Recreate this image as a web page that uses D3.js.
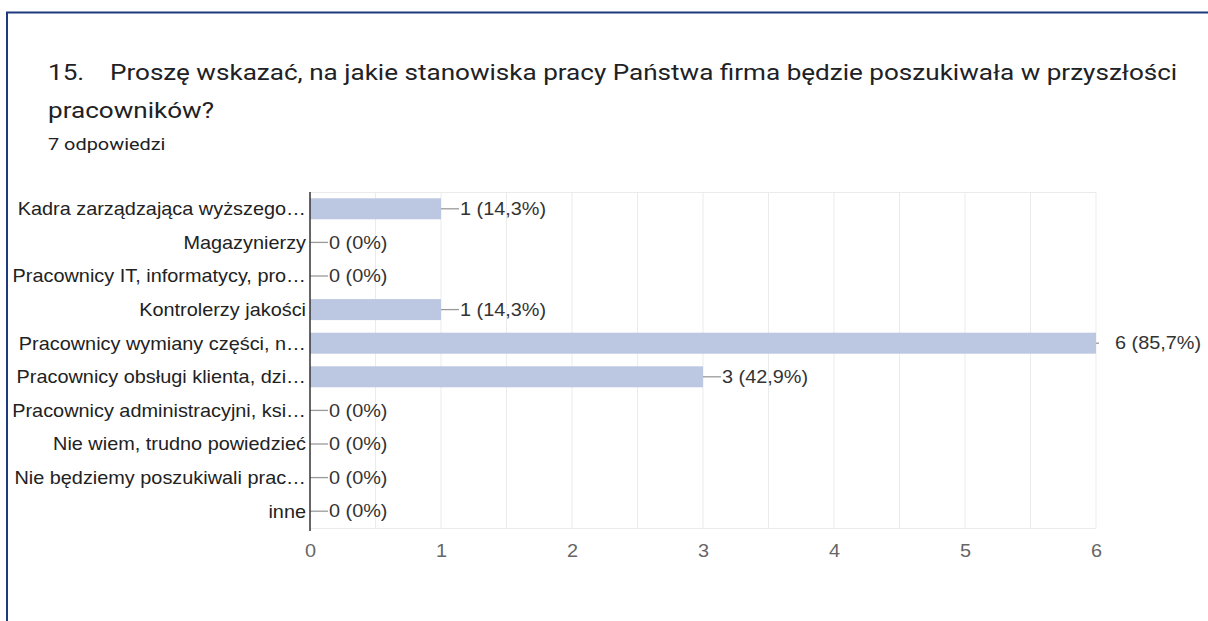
<!DOCTYPE html>
<html><head><meta charset="utf-8">
<script src="https://cdn.jsdelivr.net/npm/d3@7/dist/d3.min.js"></script>
<style>body{margin:0;background:#fff;} svg{display:block;}</style>
</head><body>
<script>
const titleNumber = "15.";
const titleLine1 = "Proszę wskazać, na jakie stanowiska pracy Państwa firma będzie poszukiwała w przyszłości";
const titleLine2 = "pracowników?";
const subtitle = "7 odpowiedzi";
const categories = [
  "Kadra zarządzająca wyższego…",
  "Magazynierzy",
  "Pracownicy IT, informatycy, pro…",
  "Kontrolerzy jakości",
  "Pracownicy wymiany części, n…",
  "Pracownicy obsługi klienta, dzi…",
  "Pracownicy administracyjni, ksi…",
  "Nie wiem, trudno powiedzieć",
  "Nie będziemy poszukiwali prac…",
  "inne"
];
const counts = [1, 0, 0, 1, 6, 3, 0, 0, 0, 0];
const percents = ["14,3%", "0%", "0%", "14,3%", "85,7%", "42,9%", "0%", "0%", "0%", "0%"];
const xTicks = [0, 1, 2, 3, 4, 5, 6];

(function () {
const W = 1208, H = 621;
const SX = 1.17; // horizontal stretch of the reference image
const svg = d3.select("body").append("svg").attr("width", W).attr("height", H);

function txt(g, x, y, s, size, fam, fill, anchor, dy, sx) {
  return g.append("text")
    .attr("transform", `translate(${x},${y}) scale(${sx || SX},1)`)
    .attr("dy", dy || 0)
    .attr("text-anchor", anchor || "start")
    .attr("font-family", fam).attr("font-size", size).attr("fill", fill)
    .text(s);
}

// frame
svg.append("path").attr("d", `M7,${H} L7,12.5 L${W},12.5`)
  .attr("fill", "none").attr("stroke", "#1d3a7c").attr("stroke-width", 2);

// titles
const tf = "Roboto, 'Noto Sans', sans-serif";
txt(svg, 48, 80, titleNumber, 22.3, tf, "#202124");
txt(svg, 110, 80, titleLine1, 22.3, tf, "#202124");
txt(svg, 48, 118, titleLine2, 22.3, tf, "#202124");
txt(svg, 48, 150, subtitle, 17, tf, "#202124");

const pl = 310, pr = 1096, pt = 192, pb = 528;
const x = d3.scaleLinear().domain([0, 6]).range([pl, pr]);
const y = d3.scaleBand().domain(categories).range([pt, pb]).paddingInner(0.375).paddingOuter(0.1875);

const cf = "'Liberation Sans', Arial, sans-serif";
// grid
const gridVals = d3.range(0.5, 6.01, 0.5);
svg.append("g").selectAll("line").data(gridVals).join("line")
  .attr("x1", d => x(d)).attr("x2", d => x(d)).attr("y1", pt).attr("y2", pb)
  .attr("stroke", "#ebebeb").attr("stroke-width", 1);
svg.append("line").attr("x1", pl).attr("x2", pr).attr("y1", pt + 0.5).attr("y2", pt + 0.5).attr("stroke", "#ebebeb");
svg.append("line").attr("x1", pl).attr("x2", pr).attr("y1", pb + 0.5).attr("y2", pb + 0.5).attr("stroke", "#ebebeb");

// bars
svg.append("g").selectAll("rect").data(categories).join("rect")
  .attr("x", x(0)).attr("y", d => y(d))
  .attr("width", (d, i) => x(counts[i]) - x(0))
  .attr("height", y.bandwidth())
  .attr("fill", "#bcc8e1");

// leader lines + value labels
const vg = svg.append("g");
categories.forEach((c, i) => {
  const cy = y(c) + y.bandwidth() / 2;
  const x0 = x(counts[i]);
  const isMax = counts[i] === 6;
  vg.append("line").attr("x1", x0).attr("x2", isMax ? x0 + 3 : x0 + 18)
    .attr("y1", cy).attr("y2", cy).attr("stroke", "#9a9a9a").attr("stroke-width", 1.3);
  txt(vg, x0 + 19, cy, `${counts[i]} (${percents[i]})`, 17.5, cf, "#333", "start", "0.35em", 1.135);
});

// category labels
const lg = svg.append("g");
categories.forEach(c => {
  txt(lg, pl - 4, y(c) + y.bandwidth() / 2, c, 18, cf, "#222", "end", "0.35em", 1.105);
});

// zero axis
svg.append("line").attr("x1", x(0)).attr("x2", x(0)).attr("y1", pt).attr("y2", pb + 3)
  .attr("stroke", "#333").attr("stroke-width", 1.5);

// x axis ticks
const xa = svg.append("g").attr("transform", `translate(0,${pb})`)
  .call(d3.axisBottom(x).tickValues(xTicks).tickSize(0).tickPadding(17).tickFormat(d3.format("d")));
xa.select(".domain").remove();
xa.selectAll("text").attr("font-family", cf).attr("font-size", 17.5).attr("fill", "#666")
  .attr("transform", `scale(1.135,1)`).attr("x", 0);
})();
</script>
</body></html>
